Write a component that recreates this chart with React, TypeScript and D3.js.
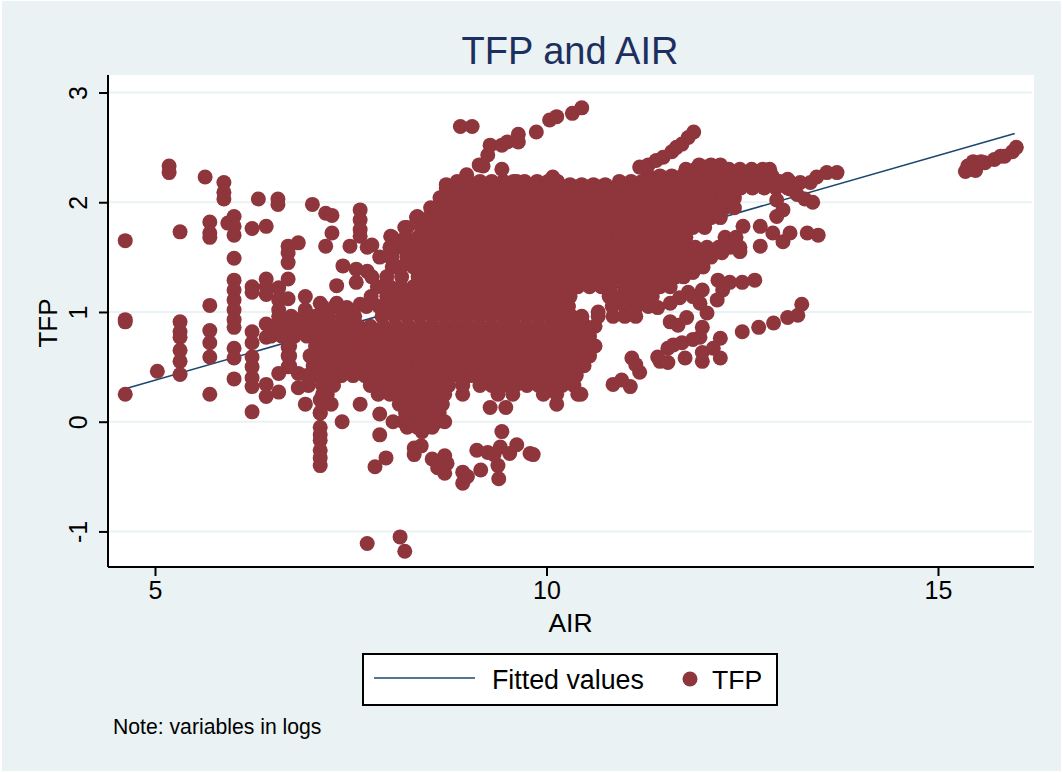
import React, { useLayoutEffect, useRef } from "react";
import * as d3 from "d3";

const xTicks = [5, 10, 15];
const yTicks = [-1, 0, 1, 2, 3];
const fittedAir = [4.62, 15.98];
const fittedTfp = [0.3, 2.627];

// Sparse vertical stacks on the left: [AIR, TFP values]
const leftColumns: [number, number[]][] = [
  [4.62, [1.65, 0.93, 0.91, 0.25]],
  [5.03, [0.46]],
  [5.18, [2.33, 2.27]],
  [5.32, [1.73, 0.91, 0.82, 0.77, 0.65, 0.55, 0.43]],
  [5.64, [2.23]],
  [5.7, [1.82, 1.72, 1.68, 1.06, 0.83, 0.72, 0.59, 0.25]],
  [5.88, [2.18, 2.09, 2.03]],
  [5.93, [1.81]],
  [6.01, [1.87, 1.78, 1.7, 1.49, 1.29, 1.2, 1.11, 1.02, 0.93, 0.86, 0.67, 0.58, 0.39]],
  [6.24, [1.76, 1.23, 1.18, 0.82, 0.72, 0.59, 0.5, 0.4, 0.32, 0.09]],
  [6.32, [2.03]],
  [6.42, [1.78, 1.3, 1.23, 1.16, 0.89, 0.77, 0.34, 0.23]],
  [6.57, [2.03, 1.98]],
  [6.58, [1.22, 1.11, 1.02, 0.96, 0.44, 0.27]],
  [6.7, [1.6, 1.54, 1.45, 1.3, 1.12, 0.84, 0.77, 0.68, 0.6, 0.5]],
  [6.83, [1.63, 0.44, 0.31]],
  [6.92, [1.14, 1.02, 0.16]],
  [7.01, [1.98]],
  [7.11, [1.08, 0.2, 0.08, -0.05, -0.12, -0.17, -0.26, -0.33, -0.4]],
  [7.18, [1.9, 1.6]],
  [7.26, [1.88, 1.72]],
  [7.32, [1.24, 1.08]],
  [7.39, [0.0]],
  [7.4, [1.42]],
  [7.45, [1.04]],
  [7.49, [1.6]],
  [7.57, [1.39, 1.27]],
  [7.62, [1.93, 1.84, 1.75, 1.69, 1.07, 0.16]],
  [7.71, [1.59, 1.37, -1.11]],
  [7.77, [1.61, 1.32, 1.09]],
  [7.87, [1.5, 0.07, -0.12]],
  [7.81, [-0.41]],
  [7.95, [-0.33, 1.06]],
  [8.01, [1.5, 1.69]],
  [8.13, [-1.05]],
  [8.19, [-1.18, 1.77]],
  [8.35, [1.87]]
];

// Filled body of the cloud: [TFP, AIR values]
const coreRows: [number, number[]][] = [
  [2.34, [11.95, 12.1, 12.22]],
  [2.3, [11.78, 11.9, 12.05, 12.2, 12.33, 12.47, 12.62, 12.76, 12.85]],
  [2.24, [11.3, 11.45, 11.6, 11.74, 11.88, 12.03, 12.18, 12.32, 12.46, 12.6, 12.75, 12.88]],
  [2.19, [8.86, 9.0, 9.15, 9.3, 9.45, 9.58, 9.72, 9.88, 10.02, 10.14, 10.93, 11.08, 11.22, 11.37, 11.52, 11.66, 11.82, 11.96, 12.1, 12.26, 12.4, 12.54, 12.7, 12.83, 12.98, 13.1]],
  [2.16, [8.72, 10.3, 10.45, 10.6, 10.75]],
  [2.13, [8.72, 8.88, 9.02, 9.18, 9.32, 9.48, 9.62, 9.78, 9.93, 10.08, 10.22, 10.38, 10.53, 10.68, 10.83, 10.98, 11.13, 11.28, 11.43, 11.58, 11.73, 11.88, 12.03, 12.18, 12.33, 12.48, 12.63, 12.78, 12.93, 13.08]],
  [2.04, [8.64, 8.8, 8.95, 9.1, 9.25, 9.4, 9.55, 9.7, 9.85, 10.0, 10.15, 10.3, 10.45, 10.6, 10.75, 10.9, 11.05, 11.2, 11.35, 11.5, 11.65, 11.8, 11.95, 12.1, 12.25, 12.4]],
  [1.95, [8.52, 8.68, 8.83, 8.98, 9.13, 9.28, 9.43, 9.58, 9.73, 9.88, 10.03, 10.18, 10.33, 10.48, 10.63, 10.78, 10.93, 11.08, 11.23, 11.38, 11.53, 11.68, 11.83, 11.98, 12.13, 12.28, 12.4]],
  [1.86, [8.34, 8.5, 8.65, 8.8, 8.95, 9.1, 9.25, 9.4, 9.55, 9.7, 9.85, 10.0, 10.15, 10.3, 10.45, 10.6, 10.75, 10.9, 11.05, 11.2, 11.35, 11.5, 11.65, 11.8, 11.95, 12.1, 12.22]],
  [1.77, [8.22, 8.4, 8.56, 8.72, 8.87, 9.02, 9.17, 9.32, 9.47, 9.62, 9.77, 9.92, 10.07, 10.22, 10.37, 10.52, 10.67, 10.82, 10.97, 11.12, 11.27, 11.42, 11.57, 11.72, 11.87, 12.02]],
  [1.68, [8.03, 8.2, 8.36, 8.52, 8.67, 8.82, 8.97, 9.12, 9.27, 9.42, 9.57, 9.72, 9.87, 10.02, 10.17, 10.32, 10.47, 10.62, 10.77, 10.92, 11.07, 11.22, 11.37, 11.52, 11.67, 11.78, 12.28, 12.42]],
  [1.59, [8.0, 8.14, 8.3, 8.45, 8.6, 8.75, 8.9, 9.05, 9.2, 9.35, 9.5, 9.65, 9.8, 9.95, 10.1, 10.25, 10.4, 10.55, 10.7, 10.85, 11.0, 11.15, 11.3, 11.45, 11.6, 11.75, 11.9, 12.05, 12.2, 12.35, 12.47]],
  [1.5, [8.03, 8.22, 8.37, 8.52, 8.67, 8.82, 8.97, 9.12, 9.27, 9.42, 9.57, 9.72, 9.87, 10.02, 10.17, 10.32, 10.47, 10.62, 10.77, 10.92, 11.07, 11.22, 11.37, 11.52, 11.67, 11.82, 11.97, 12.1]],
  [1.41, [8.03, 8.14, 8.3, 8.45, 8.6, 8.75, 8.9, 9.05, 9.2, 9.35, 9.5, 9.65, 9.8, 9.95, 10.1, 10.25, 10.4, 10.55, 10.68, 10.85, 11.0, 11.15, 11.3, 11.45, 11.6, 11.75, 11.9, 12.0]],
  [1.32, [7.96, 8.15, 8.36, 8.52, 8.67, 8.82, 8.97, 9.12, 9.27, 9.42, 9.57, 9.72, 9.87, 10.02, 10.17, 10.32, 10.47, 10.62, 10.77, 10.9, 11.05, 11.2, 11.35, 11.5, 11.65, 11.75]],
  [1.23, [7.84, 8.0, 8.14, 8.3, 8.45, 8.6, 8.75, 8.9, 9.05, 9.2, 9.35, 9.5, 9.65, 9.8, 9.95, 10.1, 10.25, 10.4, 10.55, 10.7, 10.82, 11.0, 11.15, 11.3, 11.45, 11.58]],
  [1.14, [7.76, 7.96, 8.12, 8.27, 8.42, 8.57, 8.72, 8.87, 9.02, 9.17, 9.32, 9.47, 9.62, 9.77, 9.92, 10.07, 10.22, 10.3, 10.8, 10.95, 11.1, 11.25, 11.35]],
  [1.05, [7.14, 7.3, 7.7, 7.86, 8.02, 8.18, 8.34, 8.5, 8.65, 8.8, 8.95, 9.1, 9.25, 9.4, 9.55, 9.7, 9.85, 10.0, 10.15, 10.28, 10.84, 11.0, 11.15, 11.3]],
  [0.96, [6.74, 6.9, 7.05, 7.22, 7.4, 7.55, 7.9, 8.06, 8.22, 8.38, 8.54, 8.69, 8.84, 8.99, 9.14, 9.29, 9.44, 9.59, 9.74, 9.89, 10.04, 10.18, 10.32, 10.45, 10.66, 10.85, 11.0, 11.14]],
  [0.87, [6.52, 6.68, 6.84, 7.0, 7.15, 7.3, 7.45, 7.6, 7.75, 7.92, 8.08, 8.24, 8.4, 8.55, 8.7, 8.85, 9.0, 9.15, 9.3, 9.45, 9.6, 9.75, 9.9, 10.05, 10.2, 10.35, 10.5, 10.62]],
  [0.78, [6.48, 6.62, 6.78, 6.94, 7.1, 7.25, 7.4, 7.55, 7.7, 7.85, 8.0, 8.15, 8.3, 8.45, 8.6, 8.75, 8.9, 9.05, 9.2, 9.35, 9.5, 9.65, 9.8, 9.95, 10.1, 10.25, 10.4, 10.55]],
  [0.69, [6.72, 7.05, 7.2, 7.35, 7.5, 7.65, 7.8, 7.95, 8.1, 8.25, 8.4, 8.55, 8.7, 8.85, 9.0, 9.15, 9.3, 9.45, 9.6, 9.75, 9.9, 10.05, 10.2, 10.35, 10.5, 10.62]],
  [0.6, [6.72, 6.98, 7.13, 7.28, 7.43, 7.58, 7.73, 7.88, 8.03, 8.18, 8.33, 8.48, 8.63, 8.78, 8.93, 9.08, 9.23, 9.38, 9.53, 9.68, 9.83, 9.98, 10.13, 10.28, 10.43, 10.55]],
  [0.51, [6.72, 7.02, 7.17, 7.32, 7.47, 7.62, 7.77, 7.92, 8.07, 8.22, 8.37, 8.52, 8.67, 8.82, 8.97, 9.12, 9.27, 9.42, 9.57, 9.72, 9.87, 10.02, 10.17, 10.32, 10.48]],
  [0.42, [6.94, 7.08, 7.23, 7.38, 7.53, 7.68, 7.83, 7.98, 8.13, 8.28, 8.43, 8.58, 8.73, 8.88, 9.03, 9.18, 9.33, 9.48, 9.63, 9.78, 9.93, 10.08, 10.23, 10.38]],
  [0.33, [6.96, 7.14, 7.28, 7.75, 7.9, 8.05, 8.2, 8.35, 8.5, 8.65, 8.75, 8.93, 9.15, 9.3, 9.45, 9.6, 9.75, 9.9, 10.05, 10.2, 10.35]],
  [0.25, [7.14, 7.2, 7.85, 8.0, 8.15, 8.3, 8.45, 8.6, 8.7, 8.93, 9.38, 9.57, 9.96, 10.13, 10.4]],
  [0.16, [7.14, 7.25, 8.12, 8.25, 8.4, 8.55, 8.67, 10.13]],
  [0.13, [8.51, 9.28, 9.48]],
  [0.08, [7.11, 8.2, 8.35, 8.5, 8.63]],
  [0.0, [8.04, 8.17, 8.3, 8.45, 8.6, 8.7]],
  [-0.05, [8.22, 8.35, 8.54]],
  [-0.09, [8.41]]
];

// Outlying strands and isolated points: AIR and TFP side by side
const ridgeAir = [8.9, 9.05, 8.98, 9.43, 9.62, 9.83, 10.08, 10.33, 9.14, 9.19, 9.25, 9.28, 9.43, 9.5, 9.64, 9.64, 9.87, 10.04, 10.13, 10.33, 10.45, 11.19, 11.3, 11.4, 11.49, 11.6, 11.66, 11.73, 11.81, 11.88];
const ridgeTfp = [2.69, 2.69, 2.25, 2.3, 2.19, 2.16, 2.23, 2.1, 2.34, 2.33, 2.43, 2.52, 2.52, 2.55, 2.62, 2.55, 2.64, 2.75, 2.78, 2.81, 2.86, 2.32, 2.34, 2.38, 2.41, 2.46, 2.5, 2.53, 2.59, 2.64];
const streakAir = [13.08, 13.24, 13.37, 13.45, 13.58, 13.71, 12.94, 13.4, 13.11, 13.2, 13.3, 13.02, 12.94, 12.51, 12.73, 12.89, 12.73, 13.02, 13.11, 13.33, 13.47, 12.24, 12.47, 11.87, 12.0, 11.7];
const streakTfp = [2.21, 2.18, 2.18, 2.23, 2.27, 2.27, 2.02, 2.0, 2.12, 2.07, 2.03, 1.93, 1.87, 1.78, 1.78, 1.72, 1.6, 1.64, 1.72, 1.72, 1.7, 1.54, 1.55, 1.36, 1.46, 1.41];
const branchAir = [11.42, 11.58, 11.81, 11.7, 11.99, 12.19, 12.34, 12.5, 12.66, 12.25, 12.18, 12.05, 11.96, 11.87, 11.58, 11.68, 11.79, 11.99, 11.96, 11.87, 11.73, 11.62, 11.55, 11.42, 12.22, 12.5, 12.71, 12.9, 13.08, 13.21, 13.26];
const branchTfp = [1.04, 1.08, 1.18, 1.13, 1.2, 1.29, 1.27, 1.27, 1.29, 1.2, 1.11, 0.99, 1.08, 1.14, 0.91, 0.88, 0.95, 0.86, 0.77, 0.75, 0.72, 0.7, 0.67, 0.59, 0.76, 0.82, 0.86, 0.9, 0.95, 0.97, 1.07];
const lowerAir = [11.09, 11.19, 11.07, 10.96, 10.85, 10.44, 11.77, 11.99, 11.99, 12.22, 12.13, 11.45, 11.55, 10.66, 10.45, 11.14];
const lowerTfp = [0.58, 0.45, 0.32, 0.38, 0.34, 0.25, 0.58, 0.55, 0.63, 0.58, 0.67, 0.55, 0.54, 1.0, 0.95, 0.52];
const bottomAir = [8.31, 8.31, 8.4, 8.54, 8.7, 8.73, 8.61, 8.7, 8.93, 8.93, 8.99, 9.16, 9.38, 9.39, 9.11, 9.25, 9.41, 9.53, 9.62, 9.79, 9.83, 9.43, 9.33];
const bottomTfp = [-0.24, -0.3, -0.22, -0.34, -0.31, -0.38, -0.42, -0.47, -0.46, -0.56, -0.5, -0.44, -0.4, -0.52, -0.26, -0.28, -0.23, -0.29, -0.21, -0.29, -0.3, -0.09, -0.3];
const farRightAir = [15.35, 15.48, 15.38, 15.48, 15.6, 15.72, 15.85, 15.95, 16.0, 15.45, 15.55, 15.8, 15.42];
const farRightTfp = [2.28, 2.29, 2.33, 2.34, 2.36, 2.39, 2.42, 2.46, 2.5, 2.37, 2.37, 2.42, 2.3];

const zip = (a: number[], b: number[]) => a.map((v, i) => [v, b[i]] as [number, number]);
const points: [number, number][] = [
  ...leftColumns.flatMap(([a, ts]) => ts.map((t) => [a, t] as [number, number])),
  ...coreRows.flatMap(([t, as]) => as.map((a) => [a, t] as [number, number])),
  ...zip(ridgeAir, ridgeTfp),
  ...zip(streakAir, streakTfp),
  ...zip(branchAir, branchTfp),
  ...zip(lowerAir, lowerTfp),
  ...zip(bottomAir, bottomTfp),
  ...zip(farRightAir, farRightTfp)
];

const BG = "#eaf2f3";
const MAROON = "#8f353c";
const NAVY = "#1a476f";
const FONT = "'Liberation Sans', Arial, sans-serif";

export default function App() {
  const ref = useRef<SVGSVGElement>(null);
  useLayoutEffect(() => {
    const svg = d3.select(ref.current);
    svg.selectAll("*").remove();
    const x = d3.scaleLinear().domain([5, 15]).range([155, 938]);
    const y = d3.scaleLinear().domain([0, 3]).range([421.7, 92.5]);
    const left = 108, right = 1034, top = 75, bottom = 567;

    svg.append("rect").attr("width", 1063).attr("height", 773).attr("fill", "#fff");
    svg.append("rect").attr("x", 2).attr("y", 1).attr("width", 1059).attr("height", 770).attr("fill", BG);
    svg.append("rect").attr("x", left).attr("y", top).attr("width", right - left).attr("height", bottom - top).attr("fill", "#fff");

    svg.append("g").selectAll("line").data(yTicks).join("line")
      .attr("x1", left).attr("x2", right - 2)
      .attr("y1", (d) => y(d)).attr("y2", (d) => y(d))
      .attr("stroke", BG).attr("stroke-width", 2);

    const line = d3.line<[number, number]>().x((d) => x(d[0])).y((d) => y(d[1]));
    svg.append("path").attr("d", line(zip(fittedAir, fittedTfp)))
      .attr("fill", "none").attr("stroke", NAVY).attr("stroke-width", 1.6);

    svg.append("g").selectAll("circle").data(points).join("circle")
      .attr("cx", (d) => x(d[0])).attr("cy", (d) => y(d[1])).attr("r", 7.5).attr("fill", MAROON);

    const gx = svg.append("g").attr("transform", `translate(0,${bottom})`)
      .call(d3.axisBottom(x).tickValues(xTicks).tickSize(9).tickPadding(5).tickFormat((d: any) => String(d)));
    gx.select(".domain").attr("d", `M${left},0H${right}`).attr("stroke", "#000").attr("stroke-width", 2);
    gx.selectAll(".tick line").attr("stroke", "#000").attr("stroke-width", 2);
    gx.selectAll("text").attr("font-family", FONT).attr("font-size", 25).attr("fill", "#000");

    const gy = svg.append("g").attr("transform", `translate(${left},0)`)
      .call(d3.axisLeft(y).tickValues(yTicks).tickSize(9).tickFormat((d: any) => String(d)));
    gy.select(".domain").attr("d", `M0,${top}V${bottom}`).attr("stroke", "#000").attr("stroke-width", 2);
    gy.selectAll(".tick line").attr("stroke", "#000").attr("stroke-width", 2);
    gy.selectAll("text")
      .attr("font-family", FONT).attr("font-size", 25).attr("fill", "#000")
      .attr("x", null).attr("dy", null).attr("text-anchor", "middle")
      .attr("transform", "translate(-21,0) rotate(-90)").attr("y", 0);

    const txt = (s: string, px: number, py: number, size: number, anchor = "middle", fill = "#000") =>
      svg.append("text").text(s).attr("x", px).attr("y", py).attr("font-size", size)
        .attr("font-family", FONT).attr("text-anchor", anchor).attr("fill", fill);

    txt("TFP and AIR", 570, 64, 38, "middle", "#1c2f5f");
    txt("AIR", 570.5, 632, 26.5);
    txt("TFP", 0, 0, 26).attr("transform", "translate(57,323) rotate(-90)");

    svg.append("rect").attr("x", 363).attr("y", 654).attr("width", 414).attr("height", 51)
      .attr("fill", "#fff").attr("stroke", "#000").attr("stroke-width", 2);
    svg.append("line").attr("x1", 374).attr("x2", 475).attr("y1", 678).attr("y2", 678)
      .attr("stroke", NAVY).attr("stroke-width", 1.6);
    txt("Fitted values", 492, 689, 26.8, "start");
    svg.append("circle").attr("cx", 690).attr("cy", 679).attr("r", 7.5).attr("fill", MAROON);
    txt("TFP", 712, 689, 26.6, "start");
    txt("Note: variables in logs", 113, 734, 21.2, "start");
  }, []);
  return (
    <svg ref={ref} width={1063} height={773} viewBox="0 0 1063 773"
      style={{ position: "absolute", left: 0, top: 0, display: "block" }} />
  );
}
